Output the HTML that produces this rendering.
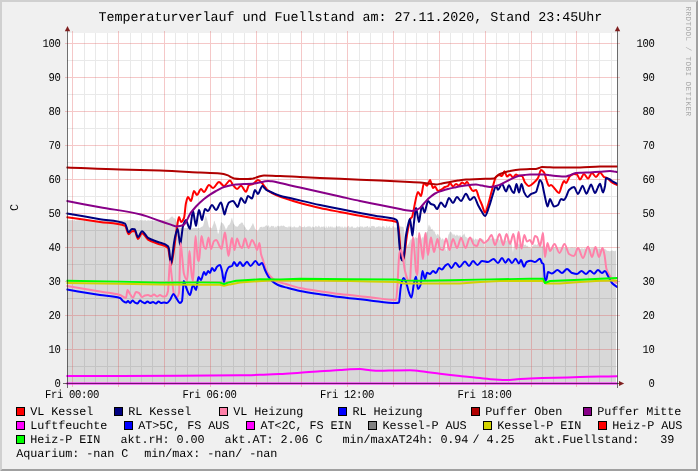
<!DOCTYPE html>
<html><head><meta charset="utf-8"><title>Temperaturverlauf</title><style>
html,body{margin:0;padding:0;background:#f0f0f0;}
body{width:698px;height:471px;overflow:hidden;position:relative;}
text{font-family:"Liberation Mono",monospace;fill:#000;white-space:pre;text-rendering:geometricPrecision;}
.ti{font-size:13.4px;letter-spacing:-0.041px;}
.ax{font-size:10.6px;letter-spacing:-0.361px;}
.lg{font-size:11.8px;letter-spacing:-0.081px;}
.wm{font-size:7.6px;letter-spacing:0.44px;fill:#ababab;}
</style></head><body>
<svg width="698" height="471" viewBox="0 0 698 471" style="position:absolute;left:0;top:0;will-change:transform;">
<rect x="0" y="0" width="698" height="471" fill="#f0f0f0"/>
<polygon points="0,0 698,0 696,2 2,2 2,469 0,471" fill="#d0d0d0"/>
<polygon points="698,0 698,471 0,471 2,469 696,469 696,2" fill="#a0a0a0"/>
<rect x="67" y="33" width="550" height="350" fill="#ffffff"/>
<clipPath id="cv"><rect x="66.4" y="33" width="551.1" height="352"/></clipPath>
<polygon points="67.0,383.0 67.0,220.2 67.5,220.0 68.0,220.4 68.5,220.0 69.0,220.3 69.5,220.2 70.0,220.0 70.5,220.3 71.0,219.9 71.5,220.3 72.0,220.0 72.5,220.0 73.0,220.3 73.5,220.6 74.0,220.0 74.5,220.1 75.0,220.4 75.5,220.7 76.0,220.4 76.5,220.2 77.0,220.7 77.5,220.0 78.0,220.6 78.5,220.2 79.0,220.0 79.5,220.0 80.0,220.2 80.5,220.6 81.0,220.1 81.5,220.4 82.0,220.4 82.5,220.2 83.0,220.4 83.5,220.0 84.0,220.0 84.5,220.1 85.0,220.5 85.5,220.3 86.0,220.2 86.5,220.4 87.0,220.3 87.5,220.2 88.0,220.6 88.5,220.5 89.0,220.1 89.5,220.4 90.0,220.4 90.5,220.7 91.0,220.5 91.5,220.2 92.0,220.7 92.5,220.0 93.0,220.3 93.5,220.6 94.0,220.1 94.5,220.4 95.0,220.0 95.5,220.5 96.0,220.6 96.5,220.4 97.0,220.7 97.5,220.2 98.0,220.5 98.5,220.4 99.0,220.4 99.5,220.3 100.0,220.6 100.5,220.7 101.0,220.4 101.5,220.5 102.0,220.0 102.5,220.5 103.0,220.5 103.5,220.8 104.0,220.6 104.5,220.2 105.0,220.3 105.5,220.5 106.0,220.0 106.5,220.4 107.0,220.1 107.5,220.1 108.0,220.0 108.5,220.6 109.0,220.1 109.5,220.2 110.0,220.3 110.5,220.7 111.0,220.1 111.5,220.4 112.0,220.4 112.5,220.7 113.0,220.7 113.5,220.7 114.0,220.2 114.5,220.3 115.0,220.3 115.5,220.7 116.0,220.8 116.5,220.1 117.0,220.1 117.5,220.2 118.0,220.2 118.5,220.4 119.0,220.5 119.5,220.2 120.0,220.0 120.5,220.4 121.0,220.3 121.5,220.5 122.0,220.8 122.5,220.6 123.0,220.4 123.5,220.5 124.0,220.6 124.5,220.1 125.0,220.7 125.5,220.6 126.0,220.7 126.5,220.7 127.0,220.3 127.5,220.3 128.0,220.1 128.5,220.5 129.0,220.1 129.5,220.1 130.0,220.2 130.5,220.2 131.0,220.3 131.5,220.1 132.0,220.0 132.5,220.2 133.0,220.1 133.5,220.3 134.0,220.1 134.5,220.7 135.0,220.5 135.5,220.2 136.0,220.3 136.5,220.3 137.0,220.3 137.5,220.1 138.0,220.7 138.5,220.8 139.0,220.4 139.5,220.4 140.0,220.1 140.5,220.1 141.0,220.3 141.5,220.3 142.0,220.7 142.5,220.2 143.0,220.1 143.5,220.8 144.0,220.5 144.5,220.2 145.0,220.5 145.5,220.1 146.0,220.5 146.5,220.9 147.0,220.8 147.5,220.6 148.0,220.3 148.5,220.4 149.0,220.2 149.5,220.7 150.0,220.5 150.5,220.7 151.0,220.3 151.5,220.3 152.0,220.7 152.5,220.9 153.0,220.8 153.5,220.7 154.0,220.7 154.5,220.7 155.0,220.3 155.5,220.5 156.0,220.4 156.5,220.1 157.0,220.1 157.5,220.3 158.0,220.3 158.5,220.7 159.0,220.9 159.5,220.5 160.0,220.9 160.5,221.0 161.0,220.9 161.5,220.3 162.0,220.1 162.5,220.1 163.0,220.1 163.5,220.1 164.0,220.5 164.5,220.7 165.0,220.6 165.5,220.1 166.0,220.1 166.5,220.1 167.0,219.2 167.5,219.6 168.0,219.7 168.5,219.4 169.0,219.3 169.5,218.5 170.0,217.7 170.5,217.8 171.0,216.8 171.5,216.8 172.0,216.5 172.5,216.4 173.0,216.9 173.5,217.9 174.0,218.2 174.5,218.2 175.0,218.6 175.5,219.2 176.0,220.4 176.5,221.8 177.0,222.6 177.5,224.8 178.0,226.5 178.5,226.7 179.0,226.9 179.5,227.5 180.0,227.6 180.5,227.5 181.0,228.5 181.5,228.2 182.0,228.1 182.5,228.5 183.0,228.1 183.5,228.5 184.0,228.5 184.5,227.9 185.0,228.0 185.5,228.0 186.0,228.0 186.5,228.3 187.0,228.0 187.5,228.2 188.0,228.0 188.5,228.8 189.0,228.2 189.5,228.3 190.0,228.5 190.5,228.8 191.0,228.3 191.5,228.8 192.0,228.3 192.5,228.3 193.0,228.3 193.5,227.8 194.0,228.2 194.5,227.9 195.0,227.7 195.5,228.5 196.0,227.8 196.5,228.1 197.0,228.3 197.5,228.2 198.0,227.9 198.5,228.1 199.0,228.1 199.5,228.3 200.0,227.6 200.5,227.7 201.0,227.1 201.5,226.8 202.0,226.9 202.5,226.3 203.0,226.1 203.5,224.3 204.0,222.4 204.5,219.9 205.0,218.1 205.5,216.1 206.0,215.7 206.5,217.5 207.0,219.0 207.5,221.0 208.0,223.0 208.5,225.4 209.0,227.2 209.5,227.5 210.0,227.8 210.5,227.3 211.0,227.7 211.5,228.3 212.0,228.3 212.5,226.3 213.0,225.0 213.5,223.9 214.0,220.7 214.5,220.9 215.0,222.6 215.5,224.0 216.0,225.0 216.5,226.9 217.0,228.7 217.5,231.7 218.0,234.2 218.5,233.3 219.0,231.8 219.5,229.7 220.0,226.7 220.5,225.0 221.0,221.9 221.5,222.3 222.0,223.2 222.5,223.3 223.0,223.3 223.5,224.3 224.0,225.0 224.5,226.1 225.0,227.2 225.5,228.6 226.0,230.2 226.5,228.5 227.0,228.1 227.5,226.9 228.0,225.5 228.5,225.3 229.0,225.1 229.5,224.5 230.0,223.6 230.5,222.5 231.0,220.4 231.5,218.6 232.0,217.4 232.5,219.7 233.0,221.5 233.5,223.5 234.0,224.3 234.5,224.8 235.0,225.5 235.5,226.3 236.0,226.6 236.5,226.4 237.0,226.6 237.5,226.9 238.0,226.1 238.5,225.7 239.0,224.6 239.5,224.1 240.0,224.2 240.5,223.4 241.0,222.6 241.5,222.9 242.0,222.1 242.5,223.1 243.0,223.3 243.5,224.9 244.0,224.9 244.5,226.5 245.0,227.0 245.5,227.5 246.0,228.4 246.5,229.4 247.0,229.4 247.5,230.0 248.0,231.0 248.5,230.2 249.0,229.6 249.5,229.2 250.0,228.6 250.5,227.7 251.0,226.8 251.5,225.8 252.0,225.3 252.5,223.8 253.0,223.0 253.5,224.2 254.0,225.8 254.5,227.0 255.0,228.8 255.5,228.8 256.0,229.9 256.5,230.1 257.0,230.0 257.5,230.6 258.0,231.4 258.5,229.6 259.0,229.3 259.5,227.9 260.0,227.0 260.5,227.2 261.0,226.7 261.5,226.7 262.0,226.9 262.5,227.7 263.0,226.0 263.5,227.3 264.0,227.0 264.5,226.8 265.0,226.2 265.5,226.0 266.0,225.3 266.5,225.5 267.0,225.3 267.5,227.1 268.0,225.8 268.5,225.6 269.0,225.4 269.5,227.4 270.0,227.4 270.5,226.9 271.0,225.9 271.5,225.8 272.0,226.0 272.5,226.4 273.0,225.6 273.5,226.4 274.0,225.9 274.5,227.7 275.0,227.8 275.5,226.7 276.0,225.9 276.5,227.8 277.0,226.1 277.5,226.2 278.0,225.3 278.5,226.3 279.0,226.5 279.5,226.6 280.0,225.8 280.5,226.6 281.0,225.3 281.5,226.0 282.0,225.5 282.5,226.4 283.0,225.4 283.5,225.4 284.0,226.1 284.5,225.9 285.0,226.9 285.5,226.7 286.0,227.3 286.5,227.1 287.0,227.2 287.5,227.7 288.0,226.4 288.5,226.2 289.0,227.9 289.5,225.8 290.0,227.3 290.5,227.1 291.0,225.5 291.5,227.6 292.0,227.7 292.5,227.1 293.0,227.3 293.5,227.5 294.0,225.8 294.5,226.8 295.0,226.8 295.5,227.6 296.0,227.6 296.5,227.6 297.0,227.0 297.5,227.8 298.0,227.3 298.5,227.3 299.0,226.1 299.5,225.6 300.0,225.8 300.5,226.4 301.0,225.8 301.5,227.7 302.0,227.0 302.5,227.1 303.0,227.1 303.5,227.3 304.0,226.8 304.5,225.5 305.0,227.6 305.5,227.5 306.0,226.8 306.5,226.9 307.0,227.2 307.5,225.7 308.0,227.4 308.5,226.2 309.0,225.7 309.5,226.2 310.0,227.4 310.5,226.1 311.0,227.5 311.5,228.1 312.0,226.8 312.5,226.5 313.0,226.8 313.5,227.3 314.0,227.6 314.5,227.2 315.0,227.2 315.5,225.8 316.0,225.9 316.5,226.2 317.0,227.5 317.5,226.4 318.0,227.0 318.5,225.6 319.0,225.7 319.5,226.3 320.0,227.3 320.5,227.4 321.0,227.3 321.5,226.3 322.0,226.9 322.5,226.8 323.0,226.8 323.5,225.9 324.0,227.9 324.5,226.1 325.0,228.1 325.5,228.0 326.0,225.6 326.5,226.8 327.0,227.7 327.5,228.1 328.0,226.8 328.5,226.3 329.0,226.2 329.5,228.1 330.0,226.2 330.5,227.1 331.0,226.0 331.5,227.0 332.0,228.1 332.5,226.0 333.0,227.8 333.5,227.0 334.0,227.9 334.5,227.5 335.0,226.2 335.5,228.0 336.0,226.9 336.5,225.7 337.0,225.7 337.5,226.9 338.0,226.8 338.5,226.4 339.0,226.0 339.5,226.6 340.0,226.5 340.5,227.8 341.0,225.7 341.5,227.6 342.0,227.8 342.5,226.0 343.0,228.1 343.5,227.5 344.0,228.0 344.5,226.4 345.0,226.6 345.5,226.7 346.0,228.3 346.5,227.2 347.0,226.6 347.5,226.8 348.0,226.4 348.5,225.8 349.0,226.0 349.5,227.9 350.0,226.4 350.5,228.1 351.0,226.3 351.5,226.4 352.0,227.0 352.5,226.2 353.0,226.7 353.5,228.2 354.0,228.0 354.5,227.8 355.0,227.3 355.5,228.1 356.0,228.1 356.5,227.1 357.0,227.5 357.5,225.8 358.0,227.6 358.5,226.8 359.0,227.6 359.5,227.3 360.0,226.4 360.5,225.8 361.0,228.1 361.5,226.0 362.0,226.9 362.5,226.5 363.0,226.4 363.5,227.6 364.0,228.2 364.5,226.3 365.0,227.3 365.5,226.4 366.0,227.1 366.5,226.7 367.0,226.1 367.5,226.0 368.0,226.2 368.5,228.0 369.0,226.9 369.5,226.2 370.0,228.0 370.5,228.2 371.0,226.8 371.5,226.0 372.0,226.1 372.5,225.8 373.0,226.5 373.5,225.8 374.0,226.2 374.5,226.3 375.0,227.1 375.5,227.9 376.0,227.5 376.5,226.7 377.0,226.7 377.5,226.9 378.0,226.6 378.5,226.5 379.0,225.7 379.5,226.3 380.0,228.1 380.5,225.9 381.0,226.9 381.5,227.2 382.0,227.8 382.5,226.1 383.0,226.3 383.5,226.2 384.0,226.6 384.5,226.7 385.0,228.0 385.5,227.8 386.0,227.8 386.5,225.6 387.0,225.6 387.5,227.4 388.0,227.9 388.5,226.8 389.0,227.1 389.5,225.5 390.0,226.5 390.5,227.9 391.0,227.7 391.5,227.7 392.0,228.0 392.5,226.2 393.0,225.8 393.5,225.9 394.0,226.9 394.5,227.3 395.0,228.0 395.5,227.4 396.0,227.2 396.5,227.5 397.0,227.0 397.5,226.9 398.0,226.8 398.5,226.7 399.0,226.6 399.5,226.5 400.0,226.4 400.5,226.5 401.0,226.6 401.5,226.7 402.0,226.7 402.5,226.8 403.0,226.9 403.5,227.0 404.0,230.1 404.5,234.1 405.0,238.0 405.5,239.6 406.0,241.2 406.5,242.8 407.0,244.4 407.5,246.0 408.0,245.0 408.5,244.0 409.0,242.9 409.5,242.0 410.0,239.4 410.5,240.5 411.0,237.7 411.5,239.7 412.0,238.9 412.5,237.8 413.0,237.2 413.5,237.5 414.0,238.7 414.5,238.8 415.0,237.0 415.5,236.8 416.0,238.2 416.5,238.3 417.0,237.7 417.5,237.5 418.0,239.0 418.5,237.5 419.0,238.7 419.5,239.5 420.0,241.4 420.5,239.9 421.0,240.2 421.5,238.4 422.0,237.2 422.5,236.7 423.0,238.4 423.5,237.1 424.0,235.4 424.5,233.9 425.0,234.7 425.5,234.5 426.0,233.1 426.5,231.9 427.0,232.5 427.5,231.5 428.0,227.7 428.5,225.4 429.0,224.5 429.5,225.5 430.0,227.0 430.5,226.3 431.0,228.9 431.5,229.2 432.0,229.0 432.5,228.6 433.0,231.4 433.5,229.9 434.0,232.0 434.5,231.1 435.0,231.9 435.5,234.4 436.0,233.9 436.5,235.9 437.0,234.7 437.5,233.8 438.0,234.0 438.5,234.7 439.0,235.5 439.5,237.3 440.0,236.2 440.5,237.7 441.0,238.3 441.5,240.3 442.0,238.5 442.5,238.4 443.0,238.6 443.5,239.6 444.0,241.0 444.5,243.3 445.0,245.4 445.5,248.4 446.0,250.6 446.5,251.6 447.0,244.2 447.5,239.0 448.0,237.3 448.5,234.2 449.0,234.4 449.5,232.7 450.0,231.7 450.5,232.1 451.0,232.2 451.5,232.3 452.0,233.5 452.5,233.8 453.0,235.4 453.5,233.6 454.0,235.8 454.5,234.1 455.0,234.7 455.5,235.9 456.0,236.0 456.5,235.1 457.0,234.3 457.5,235.4 458.0,235.3 458.5,236.7 459.0,235.1 459.5,235.6 460.0,237.0 460.5,235.0 461.0,236.0 461.5,237.0 462.0,237.0 462.5,235.3 463.0,235.4 463.5,234.1 464.0,234.8 464.5,232.9 465.0,235.4 465.5,237.1 466.0,237.1 466.5,237.1 467.0,238.8 467.5,238.2 468.0,237.4 468.5,238.6 469.0,237.8 469.5,237.8 470.0,237.3 470.5,239.2 471.0,239.6 471.5,239.0 472.0,239.8 472.5,237.6 473.0,238.2 473.5,238.8 474.0,240.0 474.5,240.0 475.0,238.7 475.5,238.5 476.0,238.9 476.5,239.1 477.0,240.2 477.5,238.5 478.0,240.0 478.5,239.9 479.0,240.2 479.5,240.1 480.0,239.8 480.5,239.1 481.0,239.2 481.5,239.4 482.0,240.4 482.5,238.8 483.0,239.1 483.5,240.5 484.0,239.4 484.5,244.5 485.0,249.9 485.5,245.6 486.0,239.6 486.5,241.0 487.0,240.5 487.5,240.6 488.0,238.7 488.5,238.1 489.0,237.9 489.5,238.7 490.0,239.0 490.5,238.4 491.0,238.0 491.5,238.5 492.0,239.0 492.5,239.2 493.0,239.4 493.5,239.7 494.0,239.3 494.5,238.0 495.0,239.8 495.5,238.6 496.0,239.3 496.5,238.8 497.0,239.8 497.5,238.5 498.0,238.7 498.5,238.7 499.0,238.6 499.5,240.4 500.0,239.7 500.5,239.1 501.0,239.3 501.5,240.8 502.0,239.7 502.5,239.1 503.0,240.5 503.5,240.2 504.0,241.0 504.5,239.0 505.0,239.9 505.5,240.8 506.0,240.9 506.5,241.1 507.0,239.0 507.5,239.7 508.0,239.3 508.5,239.5 509.0,241.5 509.5,240.6 510.0,241.4 510.5,240.1 511.0,241.4 511.5,243.1 512.0,245.4 512.5,249.7 513.0,253.1 513.5,248.1 514.0,246.2 514.5,245.5 515.0,243.8 515.5,244.2 516.0,243.7 516.5,243.9 517.0,244.0 517.5,244.9 518.0,245.0 518.5,244.0 519.0,243.5 519.5,244.3 520.0,245.2 520.5,244.0 521.0,244.3 521.5,244.1 522.0,245.6 522.5,245.0 523.0,243.9 523.5,244.0 524.0,244.7 524.5,245.1 525.0,245.3 525.5,244.3 526.0,244.7 526.5,246.2 527.0,245.8 527.5,245.7 528.0,246.0 528.5,247.8 529.0,246.5 529.5,247.4 530.0,247.2 530.5,247.5 531.0,248.9 531.5,248.7 532.0,246.7 532.5,245.8 533.0,246.5 533.5,244.8 534.0,243.8 534.5,245.5 535.0,243.8 535.5,245.0 536.0,244.2 536.5,245.5 537.0,244.7 537.5,244.2 538.0,244.0 538.5,245.5 539.0,245.9 539.5,246.8 540.0,245.0 540.5,246.4 541.0,245.9 541.5,246.4 542.0,245.7 542.5,246.1 543.0,246.8 543.5,247.9 544.0,246.1 544.5,247.1 545.0,248.0 545.5,248.5 546.0,247.0 546.5,246.9 547.0,248.3 547.5,248.4 548.0,247.6 548.5,246.8 549.0,248.3 549.5,247.4 550.0,248.3 550.5,247.8 551.0,248.2 551.5,247.1 552.0,248.1 552.5,247.2 553.0,247.5 553.5,248.2 554.0,248.2 554.5,247.1 555.0,247.2 555.5,247.5 556.0,247.7 556.5,247.5 557.0,247.1 557.5,247.3 558.0,248.1 558.5,248.4 559.0,247.0 559.5,247.9 560.0,248.2 560.5,247.0 561.0,248.3 561.5,247.1 562.0,248.0 562.5,247.9 563.0,248.0 563.5,247.5 564.0,247.7 564.5,248.0 565.0,247.7 565.5,248.1 566.0,247.8 566.5,247.7 567.0,247.0 567.5,248.1 568.0,247.9 568.5,247.4 569.0,248.3 569.5,248.4 570.0,247.8 570.5,247.4 571.0,247.9 571.5,247.3 572.0,247.3 572.5,247.8 573.0,247.3 573.5,247.9 574.0,248.0 574.5,247.2 575.0,248.2 575.5,247.3 576.0,248.4 576.5,248.5 577.0,248.0 577.5,247.3 578.0,248.0 578.5,247.8 579.0,248.8 579.5,247.4 580.0,248.7 580.5,248.9 581.0,248.5 581.5,248.6 582.0,247.6 582.5,248.9 583.0,248.1 583.5,248.9 584.0,248.9 584.5,247.6 585.0,248.7 585.5,248.9 586.0,247.5 586.5,248.0 587.0,248.7 587.5,247.6 588.0,248.9 588.5,247.9 589.0,248.8 589.5,247.7 590.0,248.3 590.5,249.0 591.0,247.8 591.5,247.9 592.0,248.3 592.5,248.0 593.0,247.6 593.5,247.8 594.0,247.8 594.5,249.1 595.0,248.7 595.5,249.1 596.0,247.9 596.5,248.9 597.0,247.8 597.5,248.5 598.0,248.7 598.5,248.3 599.0,249.1 599.5,248.6 600.0,248.7 600.5,249.2 601.0,247.9 601.5,249.4 602.0,248.8 602.5,248.4 603.0,249.1 603.5,248.2 604.0,249.5 604.5,248.8 605.0,248.5 605.5,249.5 606.0,249.7 606.5,250.1 607.0,251.2 607.5,250.5 608.0,251.3 608.5,250.8 609.0,251.1 609.5,251.5 610.0,251.1 610.5,251.2 611.0,250.8 611.5,250.5 612.0,250.5 612.5,250.6 613.0,251.1 613.5,250.9 614.0,251.0 614.5,251.4 615.0,250.6 615.5,250.7 616.0,251.2 616.0,383.0" fill="#d8d8d8" stroke="none" clip-path="url(#cv)"/>
<path d="M67 366.5H617M67 332.5H617M67 298.5H617M67 264.5H617M67 230.5H617M67 196.5H617M67 162.5H617M67 128.5H617M67 94.5H617M67 60.5H617M84.5 33V383M95.5 33V383M107.5 33V383M130.5 33V383M141.5 33V383M152.5 33V383M175.5 33V383M187.5 33V383M198.5 33V383M221.5 33V383M233.5 33V383M244.5 33V383M267.5 33V383M278.5 33V383M290.5 33V383M313.5 33V383M324.5 33V383M336.5 33V383M359.5 33V383M370.5 33V383M382.5 33V383M405.5 33V383M416.5 33V383M427.5 33V383M450.5 33V383M462.5 33V383M473.5 33V383M496.5 33V383M508.5 33V383M519.5 33V383M542.5 33V383M553.5 33V383M565.5 33V383M588.5 33V383M599.5 33V383M611.5 33V383" stroke="#8f8f8f" stroke-opacity="0.20" stroke-width="1" fill="none" shape-rendering="crispEdges"/>
<clipPath id="ga"><polygon points="67.0,383.0 67.0,220.2 67.5,220.0 68.0,220.4 68.5,220.0 69.0,220.3 69.5,220.2 70.0,220.0 70.5,220.3 71.0,219.9 71.5,220.3 72.0,220.0 72.5,220.0 73.0,220.3 73.5,220.6 74.0,220.0 74.5,220.1 75.0,220.4 75.5,220.7 76.0,220.4 76.5,220.2 77.0,220.7 77.5,220.0 78.0,220.6 78.5,220.2 79.0,220.0 79.5,220.0 80.0,220.2 80.5,220.6 81.0,220.1 81.5,220.4 82.0,220.4 82.5,220.2 83.0,220.4 83.5,220.0 84.0,220.0 84.5,220.1 85.0,220.5 85.5,220.3 86.0,220.2 86.5,220.4 87.0,220.3 87.5,220.2 88.0,220.6 88.5,220.5 89.0,220.1 89.5,220.4 90.0,220.4 90.5,220.7 91.0,220.5 91.5,220.2 92.0,220.7 92.5,220.0 93.0,220.3 93.5,220.6 94.0,220.1 94.5,220.4 95.0,220.0 95.5,220.5 96.0,220.6 96.5,220.4 97.0,220.7 97.5,220.2 98.0,220.5 98.5,220.4 99.0,220.4 99.5,220.3 100.0,220.6 100.5,220.7 101.0,220.4 101.5,220.5 102.0,220.0 102.5,220.5 103.0,220.5 103.5,220.8 104.0,220.6 104.5,220.2 105.0,220.3 105.5,220.5 106.0,220.0 106.5,220.4 107.0,220.1 107.5,220.1 108.0,220.0 108.5,220.6 109.0,220.1 109.5,220.2 110.0,220.3 110.5,220.7 111.0,220.1 111.5,220.4 112.0,220.4 112.5,220.7 113.0,220.7 113.5,220.7 114.0,220.2 114.5,220.3 115.0,220.3 115.5,220.7 116.0,220.8 116.5,220.1 117.0,220.1 117.5,220.2 118.0,220.2 118.5,220.4 119.0,220.5 119.5,220.2 120.0,220.0 120.5,220.4 121.0,220.3 121.5,220.5 122.0,220.8 122.5,220.6 123.0,220.4 123.5,220.5 124.0,220.6 124.5,220.1 125.0,220.7 125.5,220.6 126.0,220.7 126.5,220.7 127.0,220.3 127.5,220.3 128.0,220.1 128.5,220.5 129.0,220.1 129.5,220.1 130.0,220.2 130.5,220.2 131.0,220.3 131.5,220.1 132.0,220.0 132.5,220.2 133.0,220.1 133.5,220.3 134.0,220.1 134.5,220.7 135.0,220.5 135.5,220.2 136.0,220.3 136.5,220.3 137.0,220.3 137.5,220.1 138.0,220.7 138.5,220.8 139.0,220.4 139.5,220.4 140.0,220.1 140.5,220.1 141.0,220.3 141.5,220.3 142.0,220.7 142.5,220.2 143.0,220.1 143.5,220.8 144.0,220.5 144.5,220.2 145.0,220.5 145.5,220.1 146.0,220.5 146.5,220.9 147.0,220.8 147.5,220.6 148.0,220.3 148.5,220.4 149.0,220.2 149.5,220.7 150.0,220.5 150.5,220.7 151.0,220.3 151.5,220.3 152.0,220.7 152.5,220.9 153.0,220.8 153.5,220.7 154.0,220.7 154.5,220.7 155.0,220.3 155.5,220.5 156.0,220.4 156.5,220.1 157.0,220.1 157.5,220.3 158.0,220.3 158.5,220.7 159.0,220.9 159.5,220.5 160.0,220.9 160.5,221.0 161.0,220.9 161.5,220.3 162.0,220.1 162.5,220.1 163.0,220.1 163.5,220.1 164.0,220.5 164.5,220.7 165.0,220.6 165.5,220.1 166.0,220.1 166.5,220.1 167.0,219.2 167.5,219.6 168.0,219.7 168.5,219.4 169.0,219.3 169.5,218.5 170.0,217.7 170.5,217.8 171.0,216.8 171.5,216.8 172.0,216.5 172.5,216.4 173.0,216.9 173.5,217.9 174.0,218.2 174.5,218.2 175.0,218.6 175.5,219.2 176.0,220.4 176.5,221.8 177.0,222.6 177.5,224.8 178.0,226.5 178.5,226.7 179.0,226.9 179.5,227.5 180.0,227.6 180.5,227.5 181.0,228.5 181.5,228.2 182.0,228.1 182.5,228.5 183.0,228.1 183.5,228.5 184.0,228.5 184.5,227.9 185.0,228.0 185.5,228.0 186.0,228.0 186.5,228.3 187.0,228.0 187.5,228.2 188.0,228.0 188.5,228.8 189.0,228.2 189.5,228.3 190.0,228.5 190.5,228.8 191.0,228.3 191.5,228.8 192.0,228.3 192.5,228.3 193.0,228.3 193.5,227.8 194.0,228.2 194.5,227.9 195.0,227.7 195.5,228.5 196.0,227.8 196.5,228.1 197.0,228.3 197.5,228.2 198.0,227.9 198.5,228.1 199.0,228.1 199.5,228.3 200.0,227.6 200.5,227.7 201.0,227.1 201.5,226.8 202.0,226.9 202.5,226.3 203.0,226.1 203.5,224.3 204.0,222.4 204.5,219.9 205.0,218.1 205.5,216.1 206.0,215.7 206.5,217.5 207.0,219.0 207.5,221.0 208.0,223.0 208.5,225.4 209.0,227.2 209.5,227.5 210.0,227.8 210.5,227.3 211.0,227.7 211.5,228.3 212.0,228.3 212.5,226.3 213.0,225.0 213.5,223.9 214.0,220.7 214.5,220.9 215.0,222.6 215.5,224.0 216.0,225.0 216.5,226.9 217.0,228.7 217.5,231.7 218.0,234.2 218.5,233.3 219.0,231.8 219.5,229.7 220.0,226.7 220.5,225.0 221.0,221.9 221.5,222.3 222.0,223.2 222.5,223.3 223.0,223.3 223.5,224.3 224.0,225.0 224.5,226.1 225.0,227.2 225.5,228.6 226.0,230.2 226.5,228.5 227.0,228.1 227.5,226.9 228.0,225.5 228.5,225.3 229.0,225.1 229.5,224.5 230.0,223.6 230.5,222.5 231.0,220.4 231.5,218.6 232.0,217.4 232.5,219.7 233.0,221.5 233.5,223.5 234.0,224.3 234.5,224.8 235.0,225.5 235.5,226.3 236.0,226.6 236.5,226.4 237.0,226.6 237.5,226.9 238.0,226.1 238.5,225.7 239.0,224.6 239.5,224.1 240.0,224.2 240.5,223.4 241.0,222.6 241.5,222.9 242.0,222.1 242.5,223.1 243.0,223.3 243.5,224.9 244.0,224.9 244.5,226.5 245.0,227.0 245.5,227.5 246.0,228.4 246.5,229.4 247.0,229.4 247.5,230.0 248.0,231.0 248.5,230.2 249.0,229.6 249.5,229.2 250.0,228.6 250.5,227.7 251.0,226.8 251.5,225.8 252.0,225.3 252.5,223.8 253.0,223.0 253.5,224.2 254.0,225.8 254.5,227.0 255.0,228.8 255.5,228.8 256.0,229.9 256.5,230.1 257.0,230.0 257.5,230.6 258.0,231.4 258.5,229.6 259.0,229.3 259.5,227.9 260.0,227.0 260.5,227.2 261.0,226.7 261.5,226.7 262.0,226.9 262.5,227.7 263.0,226.0 263.5,227.3 264.0,227.0 264.5,226.8 265.0,226.2 265.5,226.0 266.0,225.3 266.5,225.5 267.0,225.3 267.5,227.1 268.0,225.8 268.5,225.6 269.0,225.4 269.5,227.4 270.0,227.4 270.5,226.9 271.0,225.9 271.5,225.8 272.0,226.0 272.5,226.4 273.0,225.6 273.5,226.4 274.0,225.9 274.5,227.7 275.0,227.8 275.5,226.7 276.0,225.9 276.5,227.8 277.0,226.1 277.5,226.2 278.0,225.3 278.5,226.3 279.0,226.5 279.5,226.6 280.0,225.8 280.5,226.6 281.0,225.3 281.5,226.0 282.0,225.5 282.5,226.4 283.0,225.4 283.5,225.4 284.0,226.1 284.5,225.9 285.0,226.9 285.5,226.7 286.0,227.3 286.5,227.1 287.0,227.2 287.5,227.7 288.0,226.4 288.5,226.2 289.0,227.9 289.5,225.8 290.0,227.3 290.5,227.1 291.0,225.5 291.5,227.6 292.0,227.7 292.5,227.1 293.0,227.3 293.5,227.5 294.0,225.8 294.5,226.8 295.0,226.8 295.5,227.6 296.0,227.6 296.5,227.6 297.0,227.0 297.5,227.8 298.0,227.3 298.5,227.3 299.0,226.1 299.5,225.6 300.0,225.8 300.5,226.4 301.0,225.8 301.5,227.7 302.0,227.0 302.5,227.1 303.0,227.1 303.5,227.3 304.0,226.8 304.5,225.5 305.0,227.6 305.5,227.5 306.0,226.8 306.5,226.9 307.0,227.2 307.5,225.7 308.0,227.4 308.5,226.2 309.0,225.7 309.5,226.2 310.0,227.4 310.5,226.1 311.0,227.5 311.5,228.1 312.0,226.8 312.5,226.5 313.0,226.8 313.5,227.3 314.0,227.6 314.5,227.2 315.0,227.2 315.5,225.8 316.0,225.9 316.5,226.2 317.0,227.5 317.5,226.4 318.0,227.0 318.5,225.6 319.0,225.7 319.5,226.3 320.0,227.3 320.5,227.4 321.0,227.3 321.5,226.3 322.0,226.9 322.5,226.8 323.0,226.8 323.5,225.9 324.0,227.9 324.5,226.1 325.0,228.1 325.5,228.0 326.0,225.6 326.5,226.8 327.0,227.7 327.5,228.1 328.0,226.8 328.5,226.3 329.0,226.2 329.5,228.1 330.0,226.2 330.5,227.1 331.0,226.0 331.5,227.0 332.0,228.1 332.5,226.0 333.0,227.8 333.5,227.0 334.0,227.9 334.5,227.5 335.0,226.2 335.5,228.0 336.0,226.9 336.5,225.7 337.0,225.7 337.5,226.9 338.0,226.8 338.5,226.4 339.0,226.0 339.5,226.6 340.0,226.5 340.5,227.8 341.0,225.7 341.5,227.6 342.0,227.8 342.5,226.0 343.0,228.1 343.5,227.5 344.0,228.0 344.5,226.4 345.0,226.6 345.5,226.7 346.0,228.3 346.5,227.2 347.0,226.6 347.5,226.8 348.0,226.4 348.5,225.8 349.0,226.0 349.5,227.9 350.0,226.4 350.5,228.1 351.0,226.3 351.5,226.4 352.0,227.0 352.5,226.2 353.0,226.7 353.5,228.2 354.0,228.0 354.5,227.8 355.0,227.3 355.5,228.1 356.0,228.1 356.5,227.1 357.0,227.5 357.5,225.8 358.0,227.6 358.5,226.8 359.0,227.6 359.5,227.3 360.0,226.4 360.5,225.8 361.0,228.1 361.5,226.0 362.0,226.9 362.5,226.5 363.0,226.4 363.5,227.6 364.0,228.2 364.5,226.3 365.0,227.3 365.5,226.4 366.0,227.1 366.5,226.7 367.0,226.1 367.5,226.0 368.0,226.2 368.5,228.0 369.0,226.9 369.5,226.2 370.0,228.0 370.5,228.2 371.0,226.8 371.5,226.0 372.0,226.1 372.5,225.8 373.0,226.5 373.5,225.8 374.0,226.2 374.5,226.3 375.0,227.1 375.5,227.9 376.0,227.5 376.5,226.7 377.0,226.7 377.5,226.9 378.0,226.6 378.5,226.5 379.0,225.7 379.5,226.3 380.0,228.1 380.5,225.9 381.0,226.9 381.5,227.2 382.0,227.8 382.5,226.1 383.0,226.3 383.5,226.2 384.0,226.6 384.5,226.7 385.0,228.0 385.5,227.8 386.0,227.8 386.5,225.6 387.0,225.6 387.5,227.4 388.0,227.9 388.5,226.8 389.0,227.1 389.5,225.5 390.0,226.5 390.5,227.9 391.0,227.7 391.5,227.7 392.0,228.0 392.5,226.2 393.0,225.8 393.5,225.9 394.0,226.9 394.5,227.3 395.0,228.0 395.5,227.4 396.0,227.2 396.5,227.5 397.0,227.0 397.5,226.9 398.0,226.8 398.5,226.7 399.0,226.6 399.5,226.5 400.0,226.4 400.5,226.5 401.0,226.6 401.5,226.7 402.0,226.7 402.5,226.8 403.0,226.9 403.5,227.0 404.0,230.1 404.5,234.1 405.0,238.0 405.5,239.6 406.0,241.2 406.5,242.8 407.0,244.4 407.5,246.0 408.0,245.0 408.5,244.0 409.0,242.9 409.5,242.0 410.0,239.4 410.5,240.5 411.0,237.7 411.5,239.7 412.0,238.9 412.5,237.8 413.0,237.2 413.5,237.5 414.0,238.7 414.5,238.8 415.0,237.0 415.5,236.8 416.0,238.2 416.5,238.3 417.0,237.7 417.5,237.5 418.0,239.0 418.5,237.5 419.0,238.7 419.5,239.5 420.0,241.4 420.5,239.9 421.0,240.2 421.5,238.4 422.0,237.2 422.5,236.7 423.0,238.4 423.5,237.1 424.0,235.4 424.5,233.9 425.0,234.7 425.5,234.5 426.0,233.1 426.5,231.9 427.0,232.5 427.5,231.5 428.0,227.7 428.5,225.4 429.0,224.5 429.5,225.5 430.0,227.0 430.5,226.3 431.0,228.9 431.5,229.2 432.0,229.0 432.5,228.6 433.0,231.4 433.5,229.9 434.0,232.0 434.5,231.1 435.0,231.9 435.5,234.4 436.0,233.9 436.5,235.9 437.0,234.7 437.5,233.8 438.0,234.0 438.5,234.7 439.0,235.5 439.5,237.3 440.0,236.2 440.5,237.7 441.0,238.3 441.5,240.3 442.0,238.5 442.5,238.4 443.0,238.6 443.5,239.6 444.0,241.0 444.5,243.3 445.0,245.4 445.5,248.4 446.0,250.6 446.5,251.6 447.0,244.2 447.5,239.0 448.0,237.3 448.5,234.2 449.0,234.4 449.5,232.7 450.0,231.7 450.5,232.1 451.0,232.2 451.5,232.3 452.0,233.5 452.5,233.8 453.0,235.4 453.5,233.6 454.0,235.8 454.5,234.1 455.0,234.7 455.5,235.9 456.0,236.0 456.5,235.1 457.0,234.3 457.5,235.4 458.0,235.3 458.5,236.7 459.0,235.1 459.5,235.6 460.0,237.0 460.5,235.0 461.0,236.0 461.5,237.0 462.0,237.0 462.5,235.3 463.0,235.4 463.5,234.1 464.0,234.8 464.5,232.9 465.0,235.4 465.5,237.1 466.0,237.1 466.5,237.1 467.0,238.8 467.5,238.2 468.0,237.4 468.5,238.6 469.0,237.8 469.5,237.8 470.0,237.3 470.5,239.2 471.0,239.6 471.5,239.0 472.0,239.8 472.5,237.6 473.0,238.2 473.5,238.8 474.0,240.0 474.5,240.0 475.0,238.7 475.5,238.5 476.0,238.9 476.5,239.1 477.0,240.2 477.5,238.5 478.0,240.0 478.5,239.9 479.0,240.2 479.5,240.1 480.0,239.8 480.5,239.1 481.0,239.2 481.5,239.4 482.0,240.4 482.5,238.8 483.0,239.1 483.5,240.5 484.0,239.4 484.5,244.5 485.0,249.9 485.5,245.6 486.0,239.6 486.5,241.0 487.0,240.5 487.5,240.6 488.0,238.7 488.5,238.1 489.0,237.9 489.5,238.7 490.0,239.0 490.5,238.4 491.0,238.0 491.5,238.5 492.0,239.0 492.5,239.2 493.0,239.4 493.5,239.7 494.0,239.3 494.5,238.0 495.0,239.8 495.5,238.6 496.0,239.3 496.5,238.8 497.0,239.8 497.5,238.5 498.0,238.7 498.5,238.7 499.0,238.6 499.5,240.4 500.0,239.7 500.5,239.1 501.0,239.3 501.5,240.8 502.0,239.7 502.5,239.1 503.0,240.5 503.5,240.2 504.0,241.0 504.5,239.0 505.0,239.9 505.5,240.8 506.0,240.9 506.5,241.1 507.0,239.0 507.5,239.7 508.0,239.3 508.5,239.5 509.0,241.5 509.5,240.6 510.0,241.4 510.5,240.1 511.0,241.4 511.5,243.1 512.0,245.4 512.5,249.7 513.0,253.1 513.5,248.1 514.0,246.2 514.5,245.5 515.0,243.8 515.5,244.2 516.0,243.7 516.5,243.9 517.0,244.0 517.5,244.9 518.0,245.0 518.5,244.0 519.0,243.5 519.5,244.3 520.0,245.2 520.5,244.0 521.0,244.3 521.5,244.1 522.0,245.6 522.5,245.0 523.0,243.9 523.5,244.0 524.0,244.7 524.5,245.1 525.0,245.3 525.5,244.3 526.0,244.7 526.5,246.2 527.0,245.8 527.5,245.7 528.0,246.0 528.5,247.8 529.0,246.5 529.5,247.4 530.0,247.2 530.5,247.5 531.0,248.9 531.5,248.7 532.0,246.7 532.5,245.8 533.0,246.5 533.5,244.8 534.0,243.8 534.5,245.5 535.0,243.8 535.5,245.0 536.0,244.2 536.5,245.5 537.0,244.7 537.5,244.2 538.0,244.0 538.5,245.5 539.0,245.9 539.5,246.8 540.0,245.0 540.5,246.4 541.0,245.9 541.5,246.4 542.0,245.7 542.5,246.1 543.0,246.8 543.5,247.9 544.0,246.1 544.5,247.1 545.0,248.0 545.5,248.5 546.0,247.0 546.5,246.9 547.0,248.3 547.5,248.4 548.0,247.6 548.5,246.8 549.0,248.3 549.5,247.4 550.0,248.3 550.5,247.8 551.0,248.2 551.5,247.1 552.0,248.1 552.5,247.2 553.0,247.5 553.5,248.2 554.0,248.2 554.5,247.1 555.0,247.2 555.5,247.5 556.0,247.7 556.5,247.5 557.0,247.1 557.5,247.3 558.0,248.1 558.5,248.4 559.0,247.0 559.5,247.9 560.0,248.2 560.5,247.0 561.0,248.3 561.5,247.1 562.0,248.0 562.5,247.9 563.0,248.0 563.5,247.5 564.0,247.7 564.5,248.0 565.0,247.7 565.5,248.1 566.0,247.8 566.5,247.7 567.0,247.0 567.5,248.1 568.0,247.9 568.5,247.4 569.0,248.3 569.5,248.4 570.0,247.8 570.5,247.4 571.0,247.9 571.5,247.3 572.0,247.3 572.5,247.8 573.0,247.3 573.5,247.9 574.0,248.0 574.5,247.2 575.0,248.2 575.5,247.3 576.0,248.4 576.5,248.5 577.0,248.0 577.5,247.3 578.0,248.0 578.5,247.8 579.0,248.8 579.5,247.4 580.0,248.7 580.5,248.9 581.0,248.5 581.5,248.6 582.0,247.6 582.5,248.9 583.0,248.1 583.5,248.9 584.0,248.9 584.5,247.6 585.0,248.7 585.5,248.9 586.0,247.5 586.5,248.0 587.0,248.7 587.5,247.6 588.0,248.9 588.5,247.9 589.0,248.8 589.5,247.7 590.0,248.3 590.5,249.0 591.0,247.8 591.5,247.9 592.0,248.3 592.5,248.0 593.0,247.6 593.5,247.8 594.0,247.8 594.5,249.1 595.0,248.7 595.5,249.1 596.0,247.9 596.5,248.9 597.0,247.8 597.5,248.5 598.0,248.7 598.5,248.3 599.0,249.1 599.5,248.6 600.0,248.7 600.5,249.2 601.0,247.9 601.5,249.4 602.0,248.8 602.5,248.4 603.0,249.1 603.5,248.2 604.0,249.5 604.5,248.8 605.0,248.5 605.5,249.5 606.0,249.7 606.5,250.1 607.0,251.2 607.5,250.5 608.0,251.3 608.5,250.8 609.0,251.1 609.5,251.5 610.0,251.1 610.5,251.2 611.0,250.8 611.5,250.5 612.0,250.5 612.5,250.6 613.0,251.1 613.5,250.9 614.0,251.0 614.5,251.4 615.0,250.6 615.5,250.7 616.0,251.2 616.0,383.0"/></clipPath>
<path d="M67 366.5H617M67 332.5H617M67 298.5H617M67 264.5H617M67 230.5H617M67 196.5H617M67 162.5H617M67 128.5H617M67 94.5H617M67 60.5H617M84.5 33V383M95.5 33V383M107.5 33V383M130.5 33V383M141.5 33V383M152.5 33V383M175.5 33V383M187.5 33V383M198.5 33V383M221.5 33V383M233.5 33V383M244.5 33V383M267.5 33V383M278.5 33V383M290.5 33V383M313.5 33V383M324.5 33V383M336.5 33V383M359.5 33V383M370.5 33V383M382.5 33V383M405.5 33V383M416.5 33V383M427.5 33V383M450.5 33V383M462.5 33V383M473.5 33V383M496.5 33V383M508.5 33V383M519.5 33V383M542.5 33V383M553.5 33V383M565.5 33V383M588.5 33V383M599.5 33V383M611.5 33V383" stroke="#8f8f8f" stroke-opacity="0.07" stroke-width="1" fill="none" shape-rendering="crispEdges" clip-path="url(#ga)"/>
<path d="M65 383.5H620M65 349.5H620M65 315.5H620M65 281.5H620M65 247.5H620M65 213.5H620M65 179.5H620M65 145.5H620M65 111.5H620M65 77.5H620M65 43.5H620M72.5 31V387M118.5 31V387M164.5 31V387M210.5 31V387M256.5 31V387M301.5 31V387M347.5 31V387M393.5 31V387M439.5 31V387M485.5 31V387M531.5 31V387M576.5 31V387" stroke="#de4f4f" stroke-opacity="0.31" stroke-width="1" fill="none" shape-rendering="crispEdges"/>
<g clip-path="url(#cv)" fill="none" stroke-linejoin="round" stroke-linecap="round">
<path d="M67.0 217.2C78.0 218.8 89.0 220.4 100.0 222.0C108.3 223.2 116.7 222.8 125.0 225.8C126.2 226.2 127.4 234.2 128.6 234.2C129.7 234.2 130.9 231.4 132.0 231.2C132.9 231.1 133.7 231.0 134.6 231.0C135.7 231.0 136.9 239.0 138.0 239.0C139.3 239.0 140.7 233.2 142.0 233.2C144.0 233.2 146.0 238.3 148.0 239.6C151.3 241.7 154.7 242.4 158.0 243.8C161.3 245.2 164.7 244.7 168.0 248.0C168.5 248.5 169.0 253.2 169.5 256.0C170.0 258.8 170.5 265.0 171.0 265.0C171.7 265.0 172.3 259.7 173.0 256.0C173.7 252.3 174.3 246.8 175.0 242.0C175.7 237.2 176.3 231.0 177.0 227.0C177.7 223.0 178.3 217.0 179.0 217.0C179.7 217.0 180.3 222.0 181.0 222.0C182.0 222.0 183.0 220.4 184.0 218.0C184.7 216.4 185.3 205.9 186.0 203.0C186.7 200.1 187.3 197.0 188.0 197.0C189.0 197.0 190.0 201.0 191.0 201.0C192.0 201.0 193.0 191.0 194.0 191.0C195.0 191.0 196.0 195.0 197.0 195.0C198.3 195.0 199.7 189.0 201.0 189.0C202.0 189.0 203.0 192.0 204.0 192.0C205.7 192.0 207.3 185.0 209.0 185.0C210.3 185.0 211.7 188.0 213.0 188.0C215.0 188.0 217.0 182.0 219.0 182.0C220.7 182.0 222.3 186.0 224.0 186.0C226.0 186.0 228.0 180.5 230.0 180.5C231.0 180.5 232.0 183.8 233.0 185.0C234.3 186.6 235.7 189.0 237.0 189.0C238.3 189.0 239.7 185.7 241.0 185.7C242.7 185.7 244.3 191.7 246.0 191.7C247.0 191.7 248.0 185.5 249.0 185.0C250.3 184.4 251.7 184.5 253.0 184.0C254.7 183.4 256.3 180.0 258.0 180.0C259.3 180.0 260.7 181.7 262.0 183.0C263.0 184.0 264.0 185.8 265.0 187.0C266.0 188.2 267.0 189.7 268.0 190.5C269.3 191.6 270.7 192.3 272.0 193.0C273.3 193.7 274.7 194.4 276.0 195.0C280.0 196.7 284.0 198.1 288.0 199.4C292.0 200.7 296.0 201.9 300.0 203.0C306.7 204.8 313.3 206.5 320.0 208.0C326.7 209.5 333.3 210.7 340.0 212.0C346.7 213.3 353.3 214.6 360.0 215.8C366.7 217.0 373.3 218.1 380.0 219.2C385.3 220.1 390.7 220.1 396.0 221.8C396.6 222.0 397.2 222.2 397.8 223.0C398.2 223.5 398.6 228.3 399.0 232.0C399.4 236.0 399.9 243.7 400.3 248.0C400.7 252.0 401.1 256.7 401.5 258.0C401.9 259.4 402.4 260.6 402.8 260.6C403.2 260.6 403.6 258.7 404.0 257.0C404.3 255.6 404.7 252.4 405.0 250.0C405.7 245.2 406.3 239.1 407.0 235.0C407.8 230.3 408.5 226.2 409.3 223.0C409.7 221.2 410.2 219.1 410.6 218.4C411.1 217.7 411.5 217.7 412.0 217.0C412.5 216.2 413.0 213.3 413.5 211.0C414.0 208.7 414.5 205.2 415.0 203.0C416.0 198.6 417.0 192.0 418.0 192.0C419.0 192.0 420.0 196.0 421.0 196.0C422.0 196.0 423.0 183.0 424.0 183.0C425.0 183.0 426.0 185.7 427.0 185.7C428.0 185.7 429.0 180.0 430.0 180.0C431.0 180.0 432.0 188.0 433.0 188.0C433.7 188.0 434.3 186.5 435.0 186.5C436.0 186.5 437.0 191.0 438.0 191.0C439.0 191.0 440.0 190.2 441.0 189.7C442.3 189.0 443.7 187.6 445.0 187.0C446.0 186.6 447.0 186.6 448.0 186.0C448.7 185.6 449.3 183.0 450.0 183.0C451.0 183.0 452.0 186.5 453.0 186.5C454.0 186.5 455.0 184.0 456.0 184.0C457.0 184.0 458.0 185.7 459.0 185.7C460.0 185.7 461.0 182.5 462.0 182.5C463.0 182.5 464.0 184.0 465.0 184.0C465.7 184.0 466.3 181.7 467.0 181.7C468.0 181.7 469.0 185.5 470.0 187.0C471.0 188.5 472.0 191.0 473.0 191.0C474.0 191.0 475.0 190.0 476.0 190.0C477.0 190.0 478.0 195.5 479.0 198.0C480.0 200.5 481.0 202.6 482.0 205.0C483.0 207.4 484.0 212.5 485.0 212.5C486.0 212.5 487.0 208.0 488.0 205.0C489.3 201.0 490.7 194.6 492.0 190.0C493.3 185.4 494.7 178.4 496.0 177.0C497.0 175.9 498.0 175.0 499.0 175.0C500.0 175.0 501.0 176.0 502.0 176.0C502.8 176.0 503.7 171.3 504.5 171.3C505.3 171.3 506.2 176.6 507.0 176.6C508.0 176.6 509.0 174.4 510.0 174.4C511.0 174.4 512.0 177.6 513.0 177.6C514.0 177.6 515.0 174.4 516.0 174.4C516.7 174.4 517.3 175.5 518.0 175.6C519.3 175.8 520.7 175.7 522.0 176.0C523.0 176.2 524.0 181.2 525.0 182.5C526.3 184.2 527.7 186.0 529.0 186.0C530.7 186.0 532.3 184.0 534.0 182.5C535.3 181.3 536.7 180.2 538.0 178.0C539.0 176.4 540.0 170.0 541.0 170.0C542.0 170.0 543.0 171.1 544.0 172.4C545.0 173.7 546.0 179.2 547.0 181.7C547.7 183.4 548.3 186.0 549.0 186.0C549.7 186.0 550.3 185.0 551.0 185.0C552.3 185.0 553.7 187.7 555.0 189.0C556.3 190.3 557.7 193.0 559.0 193.0C560.0 193.0 561.0 187.3 562.0 185.0C562.7 183.5 563.3 181.0 564.0 181.0C564.7 181.0 565.3 183.0 566.0 183.0C567.3 183.0 568.7 177.0 570.0 176.0C571.3 175.0 572.7 174.0 574.0 174.0C575.0 174.0 576.0 174.2 577.0 174.4C578.0 174.6 579.0 179.6 580.0 179.6C581.3 179.6 582.7 174.0 584.0 174.0C585.3 174.0 586.7 178.5 588.0 178.5C589.3 178.5 590.7 173.0 592.0 173.0C593.3 173.0 594.7 177.0 596.0 177.0C597.3 177.0 598.7 172.4 600.0 172.4C601.3 172.4 602.7 176.3 604.0 177.0C605.0 177.5 606.0 177.5 607.0 178.0C608.7 178.8 610.3 181.4 612.0 182.5C613.7 183.6 615.3 184.2 617.0 185.0" stroke="#ff0000" stroke-width="2.0"/>
<path d="M67.0 213.5C78.0 215.4 89.0 217.3 100.0 219.2C108.3 220.7 116.7 220.1 125.0 223.6C126.2 224.1 127.4 232.2 128.6 232.2C129.7 232.2 130.9 229.0 132.0 229.0C132.9 229.0 133.7 229.1 134.6 229.2C135.7 229.4 136.9 237.2 138.0 237.2C139.3 237.2 140.7 231.2 142.0 231.2C144.0 231.2 146.0 236.5 148.0 237.8C151.3 239.9 154.7 240.6 158.0 242.0C161.3 243.4 164.7 243.2 168.0 246.2C168.3 246.5 168.7 247.6 169.0 249.0C169.3 250.4 169.7 255.6 170.0 258.0C170.3 260.4 170.7 264.0 171.0 264.0C171.5 264.0 172.0 258.4 172.5 255.0C173.0 251.6 173.5 246.2 174.0 243.0C174.5 239.8 175.0 236.9 175.5 235.0C176.2 232.4 176.9 229.0 177.6 229.0C178.1 229.0 178.5 234.1 179.0 237.0C179.4 239.5 179.8 245.0 180.2 245.0C180.7 245.0 181.1 239.2 181.6 236.0C182.1 232.8 182.5 227.6 183.0 226.0C184.0 222.6 185.0 220.0 186.0 220.0C186.7 220.0 187.3 223.5 188.0 225.0C188.7 226.5 189.3 229.0 190.0 229.0C190.5 229.0 191.0 222.0 191.5 219.0C192.0 216.0 192.5 211.0 193.0 211.0C193.5 211.0 194.0 216.5 194.5 219.0C195.0 221.5 195.5 226.0 196.0 226.0C196.5 226.0 197.0 219.6 197.5 217.0C198.0 214.4 198.5 210.0 199.0 210.0C199.5 210.0 200.0 213.3 200.5 215.0C201.0 216.7 201.5 220.0 202.0 220.0C202.5 220.0 203.0 215.8 203.5 214.0C204.0 212.2 204.5 209.0 205.0 209.0C206.0 209.0 207.0 211.0 208.0 211.0C209.3 211.0 210.7 205.0 212.0 205.0C213.3 205.0 214.7 210.0 216.0 210.0C217.7 210.0 219.3 202.5 221.0 202.5C221.7 202.5 222.3 206.7 223.0 209.0C223.5 210.7 224.0 214.5 224.5 214.5C225.2 214.5 225.8 209.8 226.5 208.0C227.3 205.8 228.2 203.1 229.0 202.5C230.3 201.6 231.7 201.0 233.0 201.0C233.8 201.0 234.7 202.9 235.5 204.0C236.2 204.9 236.9 207.0 237.6 207.0C238.2 207.0 238.9 203.7 239.5 202.0C240.0 200.7 240.5 198.0 241.0 198.0C242.3 198.0 243.7 203.0 245.0 203.0C246.0 203.0 247.0 196.0 248.0 196.0C249.3 196.0 250.7 198.5 252.0 198.5C253.0 198.5 254.0 190.0 255.0 190.0C256.0 190.0 257.0 194.0 258.0 194.0C258.8 194.0 259.7 190.5 260.5 189.0C261.2 187.8 261.8 185.7 262.5 185.7C263.0 185.7 263.5 186.9 264.0 187.5C264.7 188.3 265.3 189.2 266.0 189.7C267.0 190.4 268.0 190.7 269.0 191.2C270.0 191.7 271.0 192.1 272.0 192.5C274.7 193.6 277.3 194.9 280.0 195.7C283.3 196.7 286.7 197.2 290.0 198.0C293.3 198.8 296.7 199.6 300.0 200.4C306.7 202.0 313.3 203.6 320.0 205.0C326.7 206.4 333.3 207.7 340.0 209.0C346.7 210.3 353.3 211.7 360.0 213.0C366.7 214.3 373.3 215.4 380.0 216.6C385.3 217.6 390.7 217.4 396.0 219.6C396.4 219.8 396.8 220.2 397.2 221.0C397.6 221.8 398.0 227.5 398.4 231.7C398.8 236.2 399.3 243.9 399.7 248.0C400.1 252.1 400.6 256.7 401.0 258.0C401.4 259.3 401.9 260.4 402.3 260.4C402.6 260.4 403.0 259.4 403.3 258.5C403.6 257.8 403.8 256.3 404.1 254.6C404.7 250.6 405.4 239.7 406.0 235.5C406.9 229.7 407.7 225.9 408.6 222.8C409.0 221.3 409.5 219.0 409.9 219.0C410.3 219.0 410.8 224.1 411.2 227.0C411.6 229.7 412.0 235.8 412.4 235.8C412.8 235.8 413.3 228.6 413.7 225.0C414.1 221.4 414.6 217.0 415.0 214.0C415.3 211.7 415.7 208.0 416.0 208.0C416.5 208.0 417.0 212.7 417.5 215.0C418.0 217.3 418.5 222.0 419.0 222.0C419.5 222.0 420.0 215.7 420.5 213.0C421.0 210.3 421.5 205.7 422.0 205.7C422.8 205.7 423.7 212.5 424.5 212.5C425.1 212.5 425.8 208.1 426.4 206.0C426.9 204.3 427.5 201.0 428.0 201.0C429.0 201.0 430.0 203.5 431.0 204.0C432.0 204.5 433.0 204.5 434.0 205.0C435.0 205.5 436.0 209.0 437.0 209.0C438.3 209.0 439.7 202.5 441.0 202.5C442.3 202.5 443.7 207.0 445.0 207.0C446.3 207.0 447.7 198.0 449.0 198.0C450.3 198.0 451.7 203.0 453.0 203.0C454.3 203.0 455.7 197.0 457.0 197.0C458.3 197.0 459.7 201.0 461.0 201.0C462.7 201.0 464.3 193.7 466.0 193.7C467.3 193.7 468.7 200.0 470.0 200.0C471.3 200.0 472.7 197.0 474.0 197.0C475.3 197.0 476.7 202.5 478.0 205.0C479.3 207.5 480.7 210.0 482.0 212.0C483.0 213.5 484.0 216.0 485.0 216.0C486.3 216.0 487.7 210.5 489.0 207.0C490.3 203.5 491.7 197.9 493.0 194.0C494.0 191.1 495.0 186.0 496.0 186.0C496.7 186.0 497.3 189.7 498.0 189.7C499.3 189.7 500.7 184.0 502.0 184.0C503.3 184.0 504.7 191.4 506.0 191.4C507.0 191.4 508.0 185.3 509.0 185.3C510.0 185.3 511.0 189.7 512.0 191.0C512.7 191.9 513.3 193.0 514.0 193.0C514.8 193.0 515.7 184.0 516.5 184.0C517.3 184.0 518.2 192.6 519.0 192.6C519.8 192.6 520.7 184.0 521.5 184.0C522.3 184.0 523.2 190.3 524.0 192.0C525.2 194.4 526.3 197.0 527.5 197.0C528.7 197.0 529.8 194.7 531.0 194.0C532.7 193.1 534.3 193.3 536.0 192.0C536.7 191.5 537.3 188.0 538.0 186.0C538.7 184.0 539.3 180.0 540.0 180.0C540.7 180.0 541.3 181.4 542.0 183.0C542.5 184.2 543.0 187.7 543.5 190.0C544.0 192.3 544.5 194.9 545.0 197.0C545.8 200.5 546.7 206.5 547.5 206.5C548.3 206.5 549.2 199.0 550.0 199.0C550.7 199.0 551.3 201.8 552.0 203.0C552.7 204.2 553.3 206.5 554.0 206.5C555.3 206.5 556.7 205.9 558.0 205.0C559.0 204.3 560.0 199.0 561.0 199.0C562.0 199.0 563.0 200.0 564.0 200.0C564.7 200.0 565.3 198.2 566.0 197.0C567.0 195.2 568.0 191.0 569.0 190.0C570.7 188.3 572.3 187.0 574.0 187.0C575.3 187.0 576.7 194.0 578.0 194.0C578.8 194.0 579.7 190.9 580.5 189.4C581.2 188.2 581.8 185.7 582.5 185.7C583.8 185.7 585.2 193.7 586.5 193.7C587.3 193.7 588.2 190.2 589.0 188.5C589.7 187.1 590.3 184.5 591.0 184.5C592.3 184.5 593.7 193.0 595.0 193.0C595.9 193.0 596.9 189.3 597.8 187.6C598.5 186.2 599.3 183.7 600.0 183.7C601.0 183.7 602.0 192.5 603.0 192.5C603.7 192.5 604.3 189.2 605.0 186.0C605.3 184.4 605.7 178.0 606.0 178.0C607.0 178.0 608.0 178.6 609.0 179.0C610.3 179.6 611.7 180.9 613.0 181.7C614.3 182.5 615.7 183.0 617.0 183.7" stroke="#000080" stroke-width="2.0"/>
<path d="M67.0 286.0C78.0 287.9 89.0 289.7 100.0 291.6C106.7 292.7 113.3 293.1 120.0 295.0C122.0 295.6 124.0 298.0 126.0 298.0C126.5 298.0 127.0 290.0 127.5 290.0C128.3 290.0 129.2 292.9 130.0 294.0C131.0 295.4 132.0 297.6 133.0 297.6C134.0 297.6 135.0 292.0 136.0 292.0C137.0 292.0 138.0 292.5 139.0 293.0C140.0 293.5 141.0 297.0 142.0 297.0C143.0 297.0 144.0 295.6 145.0 295.4C146.0 295.2 147.0 295.0 148.0 295.0C149.0 295.0 150.0 296.2 151.0 296.2C152.0 296.2 153.0 294.6 154.0 294.6C155.0 294.6 156.0 296.4 157.0 296.4C158.0 296.4 159.0 295.0 160.0 295.0C161.0 295.0 162.0 296.6 163.0 296.6C164.0 296.6 165.0 296.4 166.0 296.0C166.7 295.7 167.3 294.1 168.0 291.0C168.3 289.4 168.7 280.0 169.0 275.0C169.3 270.0 169.7 261.0 170.0 261.0C170.3 261.0 170.7 267.0 171.0 270.0C171.3 273.0 171.7 276.2 172.0 279.0C172.7 284.5 173.3 292.8 174.0 294.0C175.0 295.9 176.0 297.0 177.0 297.0C177.7 297.0 178.3 295.9 179.0 293.0C179.3 291.9 179.5 276.9 179.8 268.0C180.0 260.2 180.3 243.0 180.5 243.0C181.0 243.0 181.5 250.7 182.0 255.0C182.7 260.8 183.3 271.7 184.0 274.0C185.0 277.5 186.0 280.0 187.0 280.0C187.5 280.0 187.9 270.4 188.4 265.0C188.8 260.7 189.1 251.0 189.5 251.0C189.9 251.0 190.4 261.6 190.8 266.0C191.2 270.1 191.6 274.8 192.0 277.0C192.3 278.8 192.7 281.0 193.0 281.0C193.4 281.0 193.9 264.8 194.3 257.0C194.7 249.8 195.1 236.0 195.5 236.0C195.9 236.0 196.4 244.9 196.8 249.0C197.2 252.8 197.6 259.3 198.0 260.0C198.3 260.6 198.7 261.0 199.0 261.0C199.4 261.0 199.9 251.3 200.3 247.0C200.7 243.0 201.1 236.0 201.5 236.0C202.3 236.0 203.2 245.7 204.0 247.0C204.7 248.1 205.3 249.0 206.0 249.0C206.8 249.0 207.7 237.4 208.5 237.4C209.3 237.4 210.2 249.0 211.0 249.0C212.0 249.0 213.0 241.7 214.0 241.0C214.8 240.4 215.7 240.0 216.5 240.0C217.3 240.0 218.2 243.5 219.0 245.0C219.8 246.5 220.7 249.0 221.5 249.0C222.1 249.0 222.7 242.8 223.3 240.0C223.9 237.4 224.4 232.6 225.0 232.6C225.6 232.6 226.2 241.0 226.8 245.0C227.4 248.8 227.9 256.0 228.5 256.0C229.1 256.0 229.7 249.1 230.3 246.0C230.9 243.1 231.4 238.0 232.0 238.0C232.8 238.0 233.7 250.0 234.5 250.0C235.3 250.0 236.2 238.6 237.0 238.6C238.0 238.6 239.0 244.6 240.0 246.0C240.7 246.9 241.3 248.0 242.0 248.0C243.0 248.0 244.0 238.6 245.0 238.6C246.2 238.6 247.3 248.0 248.5 248.0C249.7 248.0 250.8 240.0 252.0 240.0C253.0 240.0 254.0 243.0 255.0 245.0C255.7 246.4 256.3 250.0 257.0 250.0C257.8 250.0 258.7 243.0 259.5 243.0C260.0 243.0 260.5 251.8 261.0 254.0C261.7 256.9 262.3 257.9 263.0 260.0C264.0 263.1 265.0 267.9 266.0 270.0C267.3 272.8 268.7 274.5 270.0 276.0C272.0 278.2 274.0 280.1 276.0 281.0C279.3 282.5 282.7 283.0 286.0 284.0C290.7 285.4 295.3 287.0 300.0 288.0C306.7 289.4 313.3 290.2 320.0 291.2C326.7 292.2 333.3 293.2 340.0 294.0C350.0 295.2 360.0 296.1 370.0 297.2C378.7 298.1 387.3 300.0 396.0 300.0C396.5 300.0 397.0 291.8 397.5 285.0C397.8 280.5 398.2 270.0 398.5 265.0C398.8 260.0 399.2 254.2 399.5 253.0C400.0 251.2 400.5 250.0 401.0 250.0C401.7 250.0 402.3 254.7 403.0 258.0C403.7 261.3 404.3 268.2 405.0 271.0C406.0 275.2 407.0 278.5 408.0 280.0C408.7 281.0 409.3 282.0 410.0 282.0C410.3 282.0 410.5 272.8 410.8 268.0C411.0 263.8 411.3 258.5 411.5 255.0C412.0 247.5 412.5 237.0 413.0 237.0C413.5 237.0 414.0 245.5 414.5 251.0C415.0 256.5 415.5 268.8 416.0 271.0C416.5 273.2 417.0 275.0 417.5 275.0C417.8 275.0 418.0 259.4 418.3 252.0C418.5 245.5 418.8 233.0 419.0 233.0C419.7 233.0 420.3 240.7 421.0 245.0C421.7 249.3 422.3 259.0 423.0 259.0C423.4 259.0 423.9 249.5 424.3 245.0C424.7 240.9 425.1 233.0 425.5 233.0C425.9 233.0 426.4 241.2 426.8 245.0C427.2 248.5 427.6 255.0 428.0 255.0C428.5 255.0 429.0 247.9 429.5 245.0C430.0 242.1 430.5 237.4 431.0 237.4C431.5 237.4 432.0 242.6 432.5 245.0C433.0 247.4 433.5 252.0 434.0 252.0C434.6 252.0 435.2 247.2 435.8 245.0C436.4 242.9 436.9 239.0 437.5 239.0C438.3 239.0 439.2 248.5 440.0 249.0C441.0 249.6 442.0 250.0 443.0 250.0C444.0 250.0 445.0 238.6 446.0 238.6C447.2 238.6 448.3 250.0 449.5 250.0C450.7 250.0 451.8 239.0 453.0 239.0C454.3 239.0 455.7 248.0 457.0 248.0C458.3 248.0 459.7 238.0 461.0 238.0C462.5 238.0 464.0 248.0 465.5 248.0C467.0 248.0 468.5 237.4 470.0 237.4C471.3 237.4 472.7 244.3 474.0 245.0C475.0 245.5 476.0 246.0 477.0 246.0C478.0 246.0 479.0 239.0 480.0 239.0C481.3 239.0 482.7 243.0 484.0 243.0C485.3 243.0 486.7 241.3 488.0 240.0C489.2 238.8 490.3 235.0 491.5 235.0C492.7 235.0 493.8 245.0 495.0 245.0C496.5 245.0 498.0 234.0 499.5 234.0C500.8 234.0 502.0 245.0 503.3 245.0C504.4 245.0 505.4 234.0 506.5 234.0C507.7 234.0 508.8 244.0 510.0 244.0C511.1 244.0 512.2 234.0 513.3 234.0C514.4 234.0 515.4 248.8 516.5 248.8C517.2 248.8 517.8 232.0 518.5 232.0C519.5 232.0 520.5 248.6 521.5 248.6C522.4 248.6 523.4 235.0 524.3 235.0C525.2 235.0 526.1 241.5 527.0 241.5C528.0 241.5 529.0 240.0 530.0 240.0C530.8 240.0 531.7 244.0 532.5 244.0C533.3 244.0 534.2 236.0 535.0 236.0C535.7 236.0 536.3 236.5 537.0 237.0C538.0 237.8 539.0 246.0 540.0 246.0C540.5 246.0 541.0 242.2 541.5 240.0C542.0 237.8 542.5 233.0 543.0 233.0C543.3 233.0 543.7 242.0 544.0 246.0C544.3 250.0 544.7 257.0 545.0 257.0C545.8 257.0 546.7 243.0 547.5 243.0C548.3 243.0 549.2 251.0 550.0 251.0C551.5 251.0 553.0 244.0 554.5 244.0C556.2 244.0 557.8 253.0 559.5 253.0C561.2 253.0 562.8 244.0 564.5 244.0C566.0 244.0 567.5 253.0 569.0 254.0C570.7 255.1 572.3 256.0 574.0 256.0C575.3 256.0 576.7 248.0 578.0 248.0C579.7 248.0 581.3 258.0 583.0 258.0C584.7 258.0 586.3 246.7 588.0 246.7C589.3 246.7 590.7 257.0 592.0 257.0C593.2 257.0 594.3 247.0 595.5 247.0C596.7 247.0 597.8 257.0 599.0 257.0C600.2 257.0 601.3 248.0 602.5 248.0C603.2 248.0 603.8 251.9 604.5 255.0C605.2 258.1 605.8 266.8 606.5 269.0C607.7 272.8 608.8 274.2 610.0 276.0C611.3 278.1 612.7 279.9 614.0 281.0C615.0 281.9 616.0 282.3 617.0 283.0" stroke="#ff80a8" stroke-width="2.0"/>
<path d="M67.0 289.6C78.0 291.4 89.0 293.3 100.0 295.0C106.7 296.0 113.3 295.9 120.0 298.0C121.0 298.3 122.0 300.3 123.0 301.0C124.0 301.7 125.0 302.6 126.0 302.6C126.7 302.6 127.3 301.0 128.0 301.0C128.7 301.0 129.3 303.0 130.0 303.0C130.8 303.0 131.7 300.6 132.5 300.6C133.3 300.6 134.2 302.2 135.0 302.6C135.8 303.0 136.7 303.4 137.5 303.4C138.3 303.4 139.2 300.4 140.0 300.4C140.8 300.4 141.7 301.8 142.5 302.2C143.3 302.6 144.2 303.2 145.0 303.2C145.8 303.2 146.7 301.4 147.5 301.4C148.3 301.4 149.2 303.0 150.0 303.0C151.0 303.0 152.0 302.0 153.0 302.0C154.0 302.0 155.0 303.4 156.0 303.4C156.8 303.4 157.7 301.6 158.5 301.6C159.3 301.6 160.2 303.0 161.0 303.0C162.0 303.0 163.0 302.4 164.0 302.4C165.0 302.4 166.0 303.0 167.0 303.0C168.0 303.0 169.0 301.3 170.0 300.0C171.2 298.5 172.3 294.0 173.5 294.0C174.3 294.0 175.2 296.4 176.0 297.6C177.3 299.5 178.7 303.0 180.0 303.0C180.7 303.0 181.3 302.3 182.0 301.0C182.3 300.3 182.7 294.0 183.0 290.0C183.2 287.2 183.5 281.0 183.7 281.0C184.5 281.0 185.2 285.2 186.0 287.0C187.3 290.1 188.7 295.0 190.0 295.0C191.0 295.0 192.0 285.0 193.0 285.0C194.0 285.0 195.0 290.0 196.0 290.0C196.8 290.0 197.7 277.0 198.5 277.0C199.3 277.0 200.2 280.0 201.0 280.0C202.0 280.0 203.0 272.0 204.0 272.0C204.7 272.0 205.3 275.0 206.0 275.0C206.7 275.0 207.3 271.0 208.0 271.0C208.7 271.0 209.3 273.0 210.0 273.0C210.7 273.0 211.3 268.0 212.0 268.0C212.8 268.0 213.7 271.0 214.5 271.0C215.3 271.0 216.2 267.4 217.0 266.7C218.0 265.8 219.0 265.0 220.0 265.0C220.7 265.0 221.3 268.4 222.0 271.0C222.7 273.6 223.3 282.0 224.0 282.0C224.7 282.0 225.3 274.9 226.0 273.0C227.0 270.2 228.0 267.6 229.0 267.0C230.0 266.4 231.0 266.6 232.0 266.0C232.7 265.6 233.3 262.0 234.0 262.0C235.0 262.0 236.0 266.0 237.0 266.0C238.0 266.0 239.0 262.0 240.0 262.0C241.0 262.0 242.0 266.0 243.0 266.0C244.3 266.0 245.7 261.7 247.0 261.7C248.2 261.7 249.3 266.0 250.5 266.0C252.2 266.0 253.8 261.0 255.5 261.0C256.7 261.0 257.8 265.0 259.0 265.0C260.0 265.0 261.0 263.0 262.0 263.0C263.0 263.0 264.0 267.8 265.0 270.0C266.0 272.2 267.0 274.4 268.0 276.0C269.3 278.1 270.7 279.8 272.0 281.0C274.0 282.8 276.0 284.1 278.0 285.0C281.3 286.4 284.7 287.1 288.0 288.0C292.0 289.1 296.0 290.2 300.0 291.0C306.7 292.3 313.3 293.2 320.0 294.2C326.7 295.2 333.3 296.2 340.0 297.0C350.0 298.3 360.0 299.3 370.0 300.4C378.7 301.3 387.3 303.0 396.0 303.0C397.0 303.0 398.0 302.9 399.0 302.5C399.3 302.4 399.5 298.4 399.8 296.0C400.0 293.9 400.3 290.7 400.5 289.0C401.0 285.4 401.5 282.5 402.0 281.0C402.5 279.5 403.0 278.0 403.5 278.0C404.3 278.0 405.2 280.2 406.0 282.0C406.8 283.8 407.7 288.7 408.5 291.0C409.5 293.8 410.5 297.6 411.5 297.6C412.3 297.6 413.2 286.4 414.0 283.0C414.7 280.3 415.3 276.7 416.0 276.7C416.7 276.7 417.3 289.0 418.0 289.0C418.8 289.0 419.7 287.2 420.5 285.0C421.2 283.2 421.8 271.0 422.5 271.0C423.3 271.0 424.2 279.0 425.0 279.0C425.7 279.0 426.3 272.7 427.0 272.7C428.0 272.7 429.0 274.0 430.0 274.0C431.0 274.0 432.0 271.0 433.0 271.0C434.0 271.0 435.0 273.0 436.0 273.0C437.0 273.0 438.0 268.0 439.0 268.0C440.0 268.0 441.0 269.5 442.0 269.5C443.0 269.5 444.0 266.8 445.0 266.0C446.0 265.2 447.0 264.0 448.0 264.0C449.2 264.0 450.3 268.0 451.5 268.0C452.8 268.0 454.2 262.7 455.5 262.7C456.8 262.7 458.2 267.0 459.5 267.0C461.3 267.0 463.2 261.5 465.0 261.5C466.3 261.5 467.7 266.0 469.0 266.0C470.3 266.0 471.7 261.0 473.0 261.0C474.5 261.0 476.0 265.0 477.5 265.0C479.0 265.0 480.5 261.0 482.0 261.0C484.0 261.0 486.0 262.0 488.0 262.0C489.8 262.0 491.7 259.0 493.5 259.0C495.0 259.0 496.5 263.0 498.0 263.0C499.3 263.0 500.7 258.0 502.0 258.0C503.2 258.0 504.3 262.7 505.5 262.7C506.5 262.7 507.5 259.0 508.5 259.0C509.7 259.0 510.8 263.0 512.0 263.0C513.2 263.0 514.3 258.7 515.5 258.7C516.7 258.7 517.8 263.5 519.0 263.5C519.7 263.5 520.3 260.0 521.0 260.0C522.0 260.0 523.0 266.7 524.0 266.7C524.8 266.7 525.7 262.4 526.5 262.0C528.0 261.2 529.5 260.7 531.0 260.7C532.3 260.7 533.7 262.0 535.0 262.0C536.7 262.0 538.3 258.7 540.0 258.7C540.7 258.7 541.3 262.3 542.0 263.0C542.5 263.5 543.0 263.3 543.5 264.0C543.8 264.4 544.0 270.0 544.3 273.0C544.5 275.6 544.8 281.0 545.0 281.0C545.5 281.0 546.0 280.0 546.5 279.0C547.0 278.0 547.5 272.0 548.0 272.0C549.3 272.0 550.7 273.5 552.0 273.5C553.8 273.5 555.7 270.0 557.5 270.0C559.0 270.0 560.5 273.0 562.0 273.0C563.7 273.0 565.3 269.0 567.0 269.0C568.7 269.0 570.3 272.5 572.0 273.0C573.7 273.5 575.3 274.0 577.0 274.0C578.5 274.0 580.0 271.0 581.5 271.0C583.0 271.0 584.5 274.0 586.0 274.0C587.3 274.0 588.7 270.7 590.0 270.7C591.3 270.7 592.7 273.7 594.0 273.7C595.3 273.7 596.7 270.0 598.0 270.0C599.3 270.0 600.7 273.0 602.0 273.0C603.0 273.0 604.0 271.0 605.0 271.0C606.0 271.0 607.0 274.3 608.0 276.0C609.3 278.3 610.7 281.5 612.0 283.0C613.7 284.9 615.3 285.7 617.0 287.0" stroke="#0000ff" stroke-width="2.0"/>
<path d="M67.0 167.4C84.7 168.1 102.3 169.1 120.0 169.6C133.3 170.0 146.7 170.2 160.0 170.6C173.3 171.0 186.7 171.9 200.0 172.6C206.7 172.9 213.3 173.0 220.0 173.6C222.7 173.8 225.3 174.5 228.0 175.4C229.0 175.8 230.0 176.7 231.0 177.2C232.0 177.7 233.0 178.3 234.0 178.4C236.0 178.7 238.0 178.9 240.0 178.9C242.7 178.9 245.3 178.9 248.0 178.9C249.7 178.9 251.3 178.7 253.0 178.4C254.0 178.2 255.0 177.9 256.0 177.6C257.3 177.2 258.7 176.5 260.0 176.2C261.3 175.9 262.7 175.6 264.0 175.6C266.7 175.6 269.3 175.7 272.0 175.8C274.7 175.9 277.3 175.9 280.0 176.0C286.7 176.2 293.3 176.7 300.0 177.0C313.3 177.6 326.7 178.2 340.0 178.8C353.3 179.4 366.7 180.0 380.0 180.6C386.7 180.9 393.3 181.2 400.0 181.5C406.7 181.8 413.3 182.0 420.0 182.5C423.3 182.8 426.7 183.4 430.0 183.8C432.0 184.0 434.0 184.4 436.0 184.4C438.0 184.4 440.0 183.8 442.0 183.5C444.7 183.1 447.3 182.5 450.0 182.0C452.7 181.5 455.3 181.0 458.0 180.6C460.7 180.2 463.3 179.7 466.0 179.5C470.7 179.2 475.3 179.2 480.0 179.0C484.7 178.8 489.3 178.9 494.0 178.5C495.0 178.4 496.0 176.7 497.0 176.0C498.0 175.3 499.0 174.5 500.0 174.0C501.7 173.2 503.3 172.7 505.0 172.2C506.7 171.7 508.3 171.3 510.0 171.0C513.3 170.3 516.7 169.6 520.0 169.4C523.3 169.2 526.7 169.2 530.0 169.1C532.0 169.1 534.0 169.1 536.0 169.0C537.0 169.0 538.0 168.3 539.0 168.0C540.0 167.7 541.0 167.0 542.0 167.0C544.7 167.0 547.3 167.2 550.0 167.3C553.3 167.4 556.7 167.6 560.0 167.6C566.7 167.6 573.3 167.5 580.0 167.4C586.7 167.3 593.3 166.4 600.0 166.4C605.7 166.4 611.3 166.5 617.0 166.6" stroke="#b00000" stroke-width="2.0"/>
<path d="M67.0 201.1C78.0 203.1 89.0 205.2 100.0 207.2C113.6 209.7 127.2 211.2 140.8 214.5C147.2 216.1 153.6 218.8 160.0 221.0C163.3 222.1 166.7 223.3 170.0 224.4C172.1 225.1 174.3 226.4 176.4 226.4C177.6 226.4 178.8 226.2 180.0 226.0C181.3 225.8 182.7 225.4 184.0 224.6C185.0 224.0 186.0 221.7 187.0 220.0C188.0 218.3 189.0 215.6 190.0 214.0C191.0 212.4 192.0 211.2 193.0 210.0C194.0 208.8 195.0 207.6 196.0 206.5C197.3 205.1 198.7 203.7 200.0 202.5C201.3 201.3 202.7 200.1 204.0 199.0C206.0 197.4 208.0 195.9 210.0 194.6C212.0 193.3 214.0 192.1 216.0 191.0C217.3 190.2 218.7 189.5 220.0 188.8C221.3 188.1 222.7 187.5 224.0 187.0C226.0 186.3 228.0 185.8 230.0 185.4C232.0 185.0 234.0 184.7 236.0 184.5C238.7 184.3 241.3 184.1 244.0 184.0C246.7 183.9 249.3 183.9 252.0 183.7C254.0 183.6 256.0 183.1 258.0 182.8C259.3 182.6 260.7 182.3 262.0 182.0C263.0 181.8 264.0 181.4 265.0 181.3C266.0 181.2 267.0 181.0 268.0 181.0C269.3 181.0 270.7 181.2 272.0 181.3C273.3 181.4 274.7 181.7 276.0 182.0C277.3 182.3 278.7 182.7 280.0 183.0C286.7 184.6 293.3 186.0 300.0 187.5C306.7 189.0 313.3 190.5 320.0 192.0C326.7 193.5 333.3 195.0 340.0 196.5C346.7 198.0 353.3 199.6 360.0 201.0C366.7 202.4 373.3 203.7 380.0 205.0C386.7 206.3 393.3 207.7 400.0 209.0C402.7 209.5 405.3 210.3 408.0 210.6C409.3 210.8 410.7 211.0 412.0 211.0C413.3 211.0 414.7 210.4 416.0 210.0C417.3 209.6 418.7 208.9 420.0 208.0C421.3 207.1 422.7 205.0 424.0 203.5C425.3 202.0 426.7 200.3 428.0 199.0C429.3 197.7 430.7 196.6 432.0 195.6C433.3 194.6 434.7 193.6 436.0 193.0C438.0 192.0 440.0 191.5 442.0 190.8C444.0 190.1 446.0 189.5 448.0 189.0C450.3 188.4 452.7 187.9 455.0 187.4C457.3 186.9 459.7 186.4 462.0 186.0C464.7 185.6 467.3 185.3 470.0 185.0C472.0 184.8 474.0 184.5 476.0 184.5C477.3 184.5 478.7 185.0 480.0 185.2C481.3 185.4 482.7 185.8 484.0 186.0C486.0 186.4 488.0 187.0 490.0 187.0C491.7 187.0 493.3 186.5 495.0 186.2C496.7 185.9 498.3 185.3 500.0 184.7C501.7 184.1 503.3 183.0 505.0 182.2C506.7 181.4 508.3 180.4 510.0 179.6C511.7 178.8 513.3 178.1 515.0 177.4C516.7 176.7 518.3 175.9 520.0 175.6C521.7 175.3 523.3 175.1 525.0 174.9C526.7 174.7 528.3 174.5 530.0 174.5C534.7 174.4 539.3 174.4 544.0 174.4C546.0 174.4 548.0 174.9 550.0 175.2C552.0 175.5 554.0 175.8 556.0 176.0C558.0 176.2 560.0 176.4 562.0 176.4C563.3 176.4 564.7 176.4 566.0 176.4C567.3 176.4 568.7 175.7 570.0 175.2C571.0 174.9 572.0 174.4 573.0 174.0C574.0 173.6 575.0 173.1 576.0 173.0C578.0 172.8 580.0 172.8 582.0 172.7C584.7 172.6 587.3 172.5 590.0 172.4C593.3 172.2 596.7 171.9 600.0 171.7C603.3 171.5 606.7 171.0 610.0 171.0C611.3 171.0 612.7 171.2 614.0 171.4C615.0 171.5 616.0 171.8 617.0 172.0" stroke="#880088" stroke-width="2.0"/>
<polyline points="66.0,383.5 617.0,383.5" stroke="#ff00ff" stroke-width="2.0"/>
<path d="M66.0 375.9C84.0 375.9 102.0 375.9 120.0 375.9C140.0 375.9 160.0 375.8 180.0 375.7C200.0 375.6 220.0 375.5 240.0 375.3C246.7 375.2 253.3 375.0 260.0 374.8C266.7 374.6 273.3 374.3 280.0 374.0C286.7 373.7 293.3 373.2 300.0 372.8C306.7 372.4 313.3 371.8 320.0 371.3C326.7 370.8 333.3 370.5 340.0 370.0C343.3 369.8 346.7 369.3 350.0 369.2C353.3 369.1 356.7 369.0 360.0 369.0C363.3 369.0 366.7 369.9 370.0 370.2C373.3 370.5 376.7 370.8 380.0 370.8C385.0 370.8 390.0 370.5 395.0 370.4C400.0 370.3 405.0 370.2 410.0 370.2C415.0 370.2 420.0 371.2 425.0 371.8C430.0 372.4 435.0 373.2 440.0 373.8C446.7 374.6 453.3 375.3 460.0 376.0C466.7 376.7 473.3 377.4 480.0 378.0C485.0 378.5 490.0 379.1 495.0 379.4C498.7 379.6 502.3 380.0 506.0 380.0C509.0 380.0 512.0 379.6 515.0 379.4C520.0 379.1 525.0 378.7 530.0 378.5C538.3 378.2 546.7 378.0 555.0 377.8C563.3 377.6 571.7 377.2 580.0 377.0C586.7 376.8 593.3 376.7 600.0 376.6C605.7 376.5 611.3 376.3 617.0 376.2" stroke="#ff00ff" stroke-width="2.0"/>
<polyline points="67.0,282.9 120.0,283.7 160.0,284.6 200.0,284.7 220.0,284.8 224.0,285.8 230.0,284.4 240.0,282.4 270.0,280.4 300.0,280.2 350.0,281.0 370.0,281.6 397.0,282.0 404.0,283.5 430.0,283.6 460.0,283.6 480.0,282.0 500.0,281.0 543.0,281.0 546.0,283.6 560.0,283.6 580.0,282.0 600.0,280.8 617.0,280.5" stroke="#d2d200" stroke-width="2.0"/>
<polyline points="67.0,280.8 120.0,281.6 160.0,282.6 200.0,282.4 220.0,282.6 224.0,284.0 228.0,282.6 236.0,280.8 260.0,279.2 280.0,279.4 300.0,278.7 350.0,279.3 396.0,279.5 402.0,280.4 420.0,280.7 450.0,280.2 490.0,279.4 530.0,278.7 543.0,278.7 545.0,283.0 550.0,281.0 580.0,279.8 600.0,278.8 617.0,278.0" stroke="#00ff00" stroke-width="1.9"/>
</g>
<path d="M67.5 29V388M617.5 29V388" stroke="#1f1f1f" stroke-opacity="0.64" stroke-width="1" fill="none"/>
<path d="M63 383.5H621" stroke="#1f1f1f" stroke-opacity="0.8" stroke-width="0.8" fill="none"/>
<polygon points="64.8,31.2 67.5,26 70.2,31.2" fill="#7f1f1f"/>
<polygon points="614.8,31.2 617.5,26 620.2,31.2" fill="#7f1f1f"/>
<polygon points="619,380.9 624.2,383.5 619,386.1" fill="#7f1f1f"/>
<rect x="16.5" y="407.5" width="8" height="8" fill="#ff0000" stroke="#000" stroke-width="1"/>
<rect x="114.5" y="407.5" width="8" height="8" fill="#000080" stroke="#000" stroke-width="1"/>
<rect x="219.5" y="407.5" width="8" height="8" fill="#ff80a8" stroke="#000" stroke-width="1"/>
<rect x="338.5" y="407.5" width="8" height="8" fill="#0000ff" stroke="#000" stroke-width="1"/>
<rect x="471.5" y="407.5" width="8" height="8" fill="#b00000" stroke="#000" stroke-width="1"/>
<rect x="583.5" y="407.5" width="8" height="8" fill="#880088" stroke="#000" stroke-width="1"/>
<rect x="16.5" y="421.5" width="8" height="8" fill="#ff00ff" stroke="#000" stroke-width="1"/>
<rect x="124.5" y="421.5" width="8" height="8" fill="#0000ff" stroke="#000" stroke-width="1"/>
<rect x="246.5" y="421.5" width="8" height="8" fill="#ff00ff" stroke="#000" stroke-width="1"/>
<rect x="368.5" y="421.5" width="8" height="8" fill="#808080" stroke="#000" stroke-width="1"/>
<rect x="483.5" y="421.5" width="8" height="8" fill="#d2d200" stroke="#000" stroke-width="1"/>
<rect x="598.5" y="421.5" width="8" height="8" fill="#ff0000" stroke="#000" stroke-width="1"/>
<rect x="16.5" y="435.5" width="8" height="8" fill="#00ff00" stroke="#000" stroke-width="1"/>
<text class="ti" xml:space="preserve" transform="translate(98.6 20.8) scale(1 1.00)">Temperaturverlauf und Fuellstand am: 27.11.2020, Stand 23:45Uhr</text>
<text class="ax" xml:space="preserve" transform="translate(54.4 386.6) scale(1 1.12)">0</text>
<text class="ax" xml:space="preserve" transform="translate(648.5 386.6) scale(1 1.12)">0</text>
<text class="ax" xml:space="preserve" transform="translate(48.4 352.6) scale(1 1.12)">10</text>
<text class="ax" xml:space="preserve" transform="translate(642.5 352.6) scale(1 1.12)">10</text>
<text class="ax" xml:space="preserve" transform="translate(48.4 318.6) scale(1 1.12)">20</text>
<text class="ax" xml:space="preserve" transform="translate(642.5 318.6) scale(1 1.12)">20</text>
<text class="ax" xml:space="preserve" transform="translate(48.4 284.6) scale(1 1.12)">30</text>
<text class="ax" xml:space="preserve" transform="translate(642.5 284.6) scale(1 1.12)">30</text>
<text class="ax" xml:space="preserve" transform="translate(48.4 250.6) scale(1 1.12)">40</text>
<text class="ax" xml:space="preserve" transform="translate(642.5 250.6) scale(1 1.12)">40</text>
<text class="ax" xml:space="preserve" transform="translate(48.4 216.6) scale(1 1.12)">50</text>
<text class="ax" xml:space="preserve" transform="translate(642.5 216.6) scale(1 1.12)">50</text>
<text class="ax" xml:space="preserve" transform="translate(48.4 182.6) scale(1 1.12)">60</text>
<text class="ax" xml:space="preserve" transform="translate(642.5 182.6) scale(1 1.12)">60</text>
<text class="ax" xml:space="preserve" transform="translate(48.4 148.6) scale(1 1.12)">70</text>
<text class="ax" xml:space="preserve" transform="translate(642.5 148.6) scale(1 1.12)">70</text>
<text class="ax" xml:space="preserve" transform="translate(48.4 114.6) scale(1 1.12)">80</text>
<text class="ax" xml:space="preserve" transform="translate(642.5 114.6) scale(1 1.12)">80</text>
<text class="ax" xml:space="preserve" transform="translate(48.4 80.6) scale(1 1.12)">90</text>
<text class="ax" xml:space="preserve" transform="translate(642.5 80.6) scale(1 1.12)">90</text>
<text class="ax" xml:space="preserve" transform="translate(42.4 46.6) scale(1 1.12)">100</text>
<text class="ax" xml:space="preserve" transform="translate(636.5 46.6) scale(1 1.12)">100</text>
<text class="ax" xml:space="preserve" transform="translate(45.1 397.9) scale(1 1.12)">Fri 00:00</text>
<text class="ax" xml:space="preserve" transform="translate(182.6 397.9) scale(1 1.12)">Fri 06:00</text>
<text class="ax" xml:space="preserve" transform="translate(320.1 397.9) scale(1 1.12)">Fri 12:00</text>
<text class="ax" xml:space="preserve" transform="translate(457.6 397.9) scale(1 1.12)">Fri 18:00</text>
<text class="lg" xml:space="preserve" transform="translate(30.2 415.0) scale(1 1.00)">VL Kessel</text>
<text class="lg" xml:space="preserve" transform="translate(128.2 415.0) scale(1 1.00)">RL Kessel</text>
<text class="lg" xml:space="preserve" transform="translate(233.2 415.0) scale(1 1.00)">VL Heizung</text>
<text class="lg" xml:space="preserve" transform="translate(352.4 415.0) scale(1 1.00)">RL Heizung</text>
<text class="lg" xml:space="preserve" transform="translate(485.2 415.0) scale(1 1.00)">Puffer Oben</text>
<text class="lg" xml:space="preserve" transform="translate(597.2 415.0) scale(1 1.00)">Puffer Mitte</text>
<text class="lg" xml:space="preserve" transform="translate(30.2 429.0) scale(1 1.00)">Luftfeuchte</text>
<text class="lg" xml:space="preserve" transform="translate(138.2 429.0) scale(1 1.00)">AT&gt;5C, FS AUS</text>
<text class="lg" xml:space="preserve" transform="translate(260.4 429.0) scale(1 1.00)">AT&lt;2C, FS EIN</text>
<text class="lg" xml:space="preserve" transform="translate(382.4 429.0) scale(1 1.00)">Kessel-P AUS</text>
<text class="lg" xml:space="preserve" transform="translate(497.2 429.0) scale(1 1.00)">Kessel-P EIN</text>
<text class="lg" xml:space="preserve" transform="translate(612.2 429.0) scale(1 1.00)">Heiz-P AUS</text>
<text class="lg" xml:space="preserve" transform="translate(30.2 442.8) scale(1 1.00)">Heiz-P EIN</text>
<text class="lg" xml:space="preserve" transform="translate(120.6 442.8) scale(1 1.00)">akt.rH: 0.00</text>
<text class="lg" xml:space="preserve" transform="translate(224.4 442.8) scale(1 1.00)">akt.AT: 2.06 C</text>
<text class="lg" xml:space="preserve" transform="translate(342.4 442.8) scale(1 1.00)">min/maxAT24h: 0.94</text>
<text class="lg" xml:space="preserve" transform="translate(472.4 442.8) scale(1 1.00)">/ 4.25</text>
<text class="lg" xml:space="preserve" transform="translate(534.2 442.8) scale(1 1.00)">akt.Fuellstand:   39</text>
<text class="lg" xml:space="preserve" transform="translate(16.2 456.8) scale(1 1.00)">Aquarium: -nan C</text>
<text class="lg" xml:space="preserve" transform="translate(144.2 456.8) scale(1 1.00)">min/max: -nan/ -nan</text>
<text class="lg" xml:space="preserve" transform="translate(17.8 211.0) rotate(-90)">C</text>
<text class="wm" xml:space="preserve" transform="translate(685.5 6.5) rotate(90)">RRDTOOL / TOBI OETIKER</text>
</svg>

</body></html>
